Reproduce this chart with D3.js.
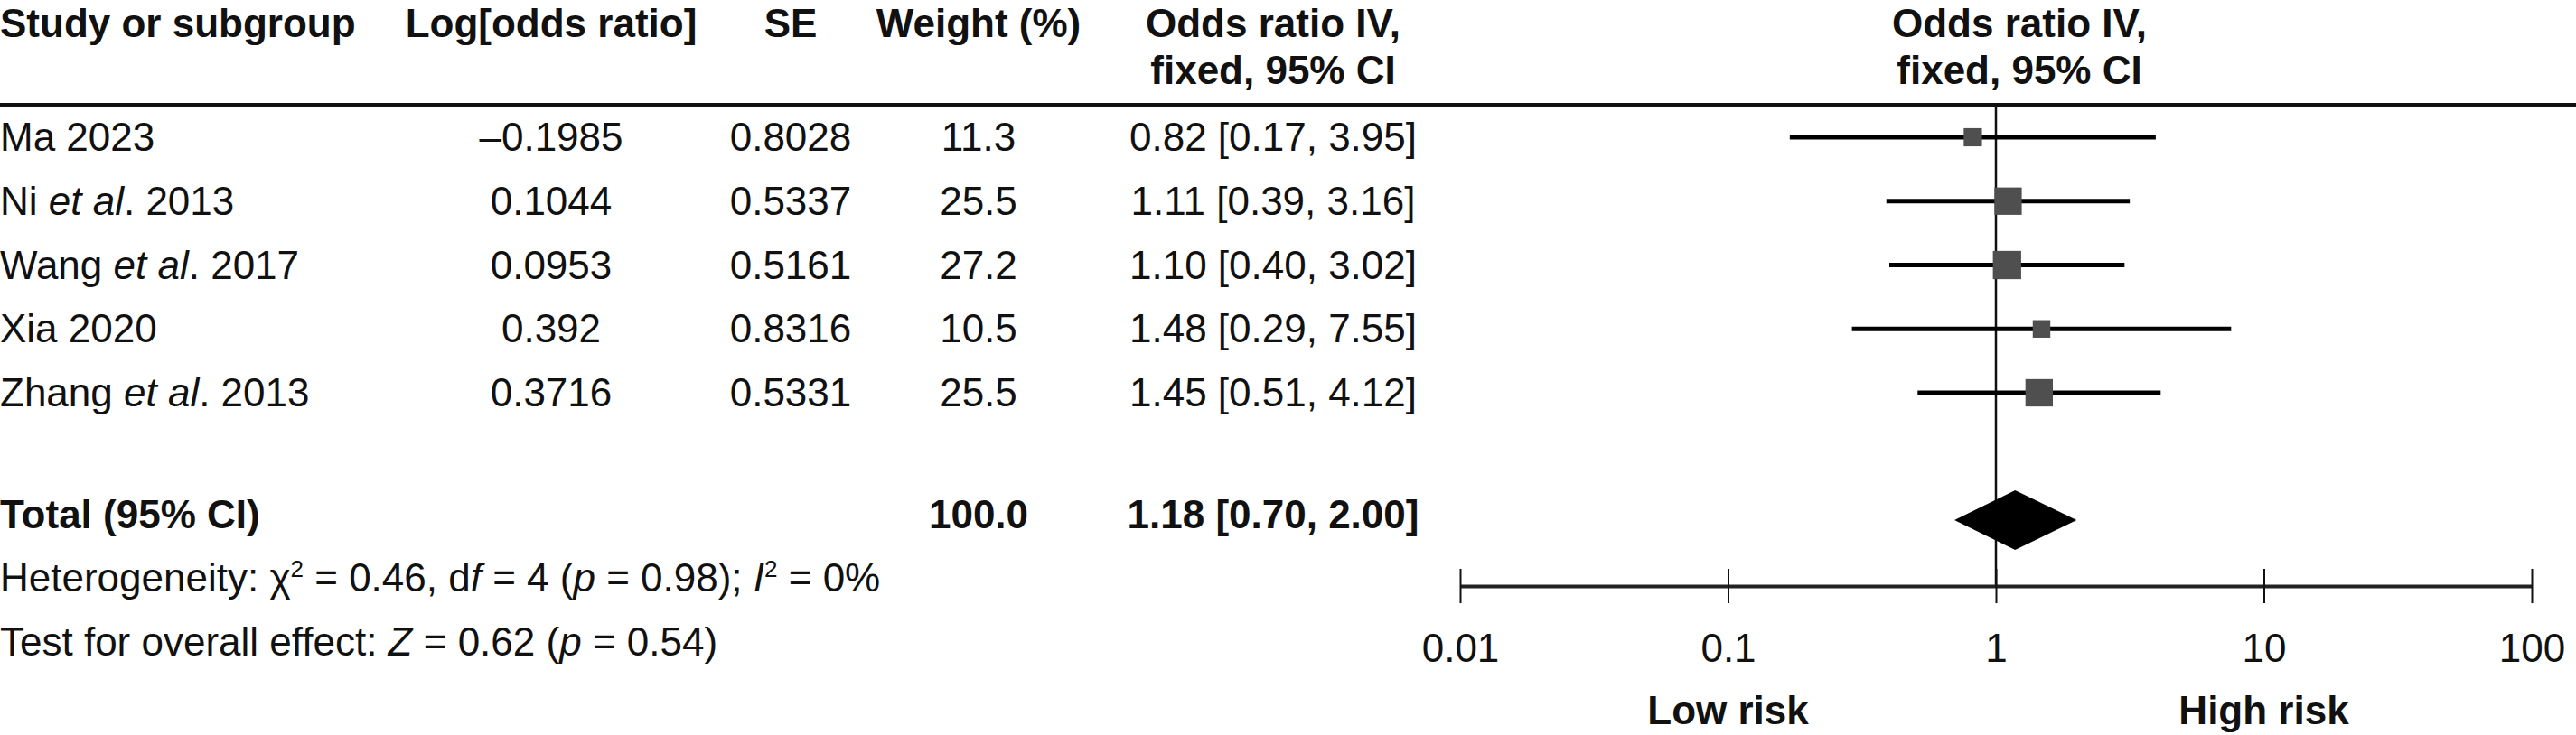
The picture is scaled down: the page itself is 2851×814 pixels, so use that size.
<!DOCTYPE html>
<html>
<head>
    <script src="https://d3js.org/d3.v7.min.js"></script>
    <style>
        body { margin: 0; background: #fff; }
        svg text { font-family: "Liberation Sans", Arial, sans-serif; font-size: 44px; fill: #111; }
        .bold { font-weight: bold; }
    </style>
</head>
<body>
    <svg id="forest" width="2851" height="814"></svg>
    <script>
        // data
        const studies = ["Ma 2023", "Ni et al. 2013", "Wang et al. 2017", "Xia 2020", "Zhang et al. 2013"];
        const logOR = [-0.1985, 0.1044, 0.0953, 0.392, 0.3716];
        const se = [0.8028, 0.5337, 0.5161, 0.8316, 0.5331];
        const weight = [11.3, 25.5, 27.2, 10.5, 25.5];
        const oddsRatio = [0.82, 1.11, 1.10, 1.48, 1.45];
        const ciLow = [0.17, 0.39, 0.40, 0.29, 0.51];
        const ciHigh = [3.95, 3.16, 3.02, 7.55, 4.12];
        const totalValues = [100.0, 1.18, 0.70, 2.00]; // weight, OR, low, high
        const axisTicks = [0.01, 0.1, 1, 10, 100];

        const svg = d3.select("#forest");
        const W = +svg.attr("width");

        const x = d3.scaleLog().domain([0.01, 100]).range([1616, 2802]);
        const y = d3.scalePoint().domain(studies).range([152, 435]);
        const boxSize = d3.scaleSqrt().domain([0, 100]).range([0, 60]);

        const colStudy = 0, colLog = 610, colSE = 875, colW = 1083, colOR = 1409, colPlot = 2235;
        const textOff = 15;
        const axisY = 649, totalY = 576;

        const fmtLog = v => String(v).replace("-", "\u2013");

        // header
        const head = svg.append("g").attr("class", "bold");
        head.append("text").attr("x", colStudy).attr("y", 41).text("Study or subgroup");
        head.append("text").attr("x", colLog).attr("y", 41).attr("text-anchor", "middle").text("Log[odds ratio]");
        head.append("text").attr("x", colSE).attr("y", 41).attr("text-anchor", "middle").text("SE");
        head.append("text").attr("x", colW).attr("y", 41).attr("text-anchor", "middle").text("Weight (%)");
        [colOR, colPlot].forEach(cx => {
            head.append("text").attr("x", cx).attr("y", 41).attr("text-anchor", "middle").text("Odds ratio IV,");
            head.append("text").attr("x", cx).attr("y", 93).attr("text-anchor", "middle").text("fixed, 95% CI");
        });

        svg.append("line")
            .attr("x1", 0).attr("x2", W)
            .attr("y1", 116).attr("y2", 116)
            .attr("stroke", "#111").attr("stroke-width", 4);

        // study rows
        const rows = svg.append("g").selectAll("g")
            .data(studies)
            .join("g")
            .attr("transform", d => `translate(0,${y(d) + textOff})`);

        rows.append("text").attr("x", colStudy).each(function (d) {
            const parts = d.split("et al.");
            const t = d3.select(this);
            if (parts.length === 1) { t.text(d); return; }
            t.append("tspan").text(parts[0]);
            t.append("tspan").attr("font-style", "italic").text("et al");
            t.append("tspan").text("." + parts[1]);
        });
        rows.append("text").attr("x", colLog).attr("text-anchor", "middle").text((d, i) => fmtLog(logOR[i]));
        rows.append("text").attr("x", colSE).attr("text-anchor", "middle").text((d, i) => se[i].toFixed(4));
        rows.append("text").attr("x", colW).attr("text-anchor", "middle").text((d, i) => weight[i].toFixed(1));
        rows.append("text").attr("x", colOR).attr("text-anchor", "middle")
            .text((d, i) => `${oddsRatio[i].toFixed(2)} [${ciLow[i].toFixed(2)}, ${ciHigh[i].toFixed(2)}]`);

        // total row
        const tot = svg.append("g").attr("class", "bold");
        tot.append("text").attr("x", colStudy).attr("y", totalY + 9).text("Total (95% CI)");
        tot.append("text").attr("x", colW).attr("y", totalY + 9).attr("text-anchor", "middle").text(totalValues[0].toFixed(1));
        tot.append("text").attr("x", colOR).attr("y", totalY + 9).attr("text-anchor", "middle")
            .text(`${totalValues[1].toFixed(2)} [${totalValues[2].toFixed(2)}, ${totalValues[3].toFixed(2)}]`);

        // heterogeneity / overall effect
        const het = svg.append("text").attr("x", colStudy).attr("y", 655);
        het.append("tspan").text("Heterogeneity: ");
        het.append("tspan").text("\u03c7");
        het.append("tspan").attr("font-size", 26).attr("dy", -16).text("2");
        het.append("tspan").attr("dy", 16).text(" = 0.46, d");
        het.append("tspan").attr("font-style", "italic").text("f");
        het.append("tspan").text(" = 4 (");
        het.append("tspan").attr("font-style", "italic").text("p");
        het.append("tspan").text(" = 0.98); ");
        het.append("tspan").attr("font-style", "italic").text("I");
        het.append("tspan").attr("font-size", 26).attr("dy", -16).text("2");
        het.append("tspan").attr("dy", 16).text(" = 0%");

        const eff = svg.append("text").attr("x", colStudy).attr("y", 726);
        eff.append("tspan").text("Test for overall effect: ");
        eff.append("tspan").attr("font-style", "italic").text("Z");
        eff.append("tspan").text(" = 0.62 (");
        eff.append("tspan").attr("font-style", "italic").text("p");
        eff.append("tspan").text(" = 0.54)");

        // null line
        svg.append("line")
            .attr("x1", x(1)).attr("x2", x(1))
            .attr("y1", 116).attr("y2", axisY)
            .attr("stroke", "#111").attr("stroke-width", 2.5);

        // confidence intervals and boxes
        const plot = svg.append("g");
        plot.selectAll(".ci")
            .data(studies)
            .join("line")
            .attr("class", "ci")
            .attr("x1", (d, i) => x(ciLow[i]))
            .attr("x2", (d, i) => x(ciHigh[i]))
            .attr("y1", d => y(d)).attr("y2", d => y(d))
            .attr("stroke", "#000").attr("stroke-width", 5);

        plot.selectAll(".box")
            .data(studies)
            .join("rect")
            .attr("class", "box")
            .attr("x", (d, i) => x(oddsRatio[i]) - boxSize(weight[i]) / 2)
            .attr("y", (d, i) => y(d) - boxSize(weight[i]) / 2)
            .attr("width", (d, i) => boxSize(weight[i]))
            .attr("height", (d, i) => boxSize(weight[i]))
            .attr("fill", "#4f4f4f");

        // total diamond
        const dh = 33;
        plot.append("path")
            .attr("d", `M${x(totalValues[2])},${totalY} L${x(totalValues[1])},${totalY - dh} L${x(totalValues[3])},${totalY} L${x(totalValues[1])},${totalY + dh} Z`)
            .attr("fill", "#000");

        // axis
        const axisG = svg.append("g")
            .attr("transform", `translate(0,${axisY})`)
            .call(d3.axisBottom(x).tickValues(axisTicks).tickFormat(d => String(d)).tickSizeOuter(0).tickSizeInner(19));
        axisG.select(".domain").attr("stroke", "#222").attr("stroke-width", 4);
        axisG.selectAll(".tick line").attr("y1", -19).attr("y2", 19).attr("stroke", "#111").attr("stroke-width", 2);
        axisG.selectAll(".tick text")
            .attr("y", 84).attr("dy", null)
            .attr("font-size", 44).attr("font-family", null).attr("fill", "#111");
        axisG.attr("font-size", null).attr("font-family", null);

        svg.append("text").attr("class", "bold").attr("x", x(0.1)).attr("y", 802).attr("text-anchor", "middle").text("Low risk");
        svg.append("text").attr("class", "bold").attr("x", x(10)).attr("y", 802).attr("text-anchor", "middle").text("High risk");
    </script>
</body>
</html>
